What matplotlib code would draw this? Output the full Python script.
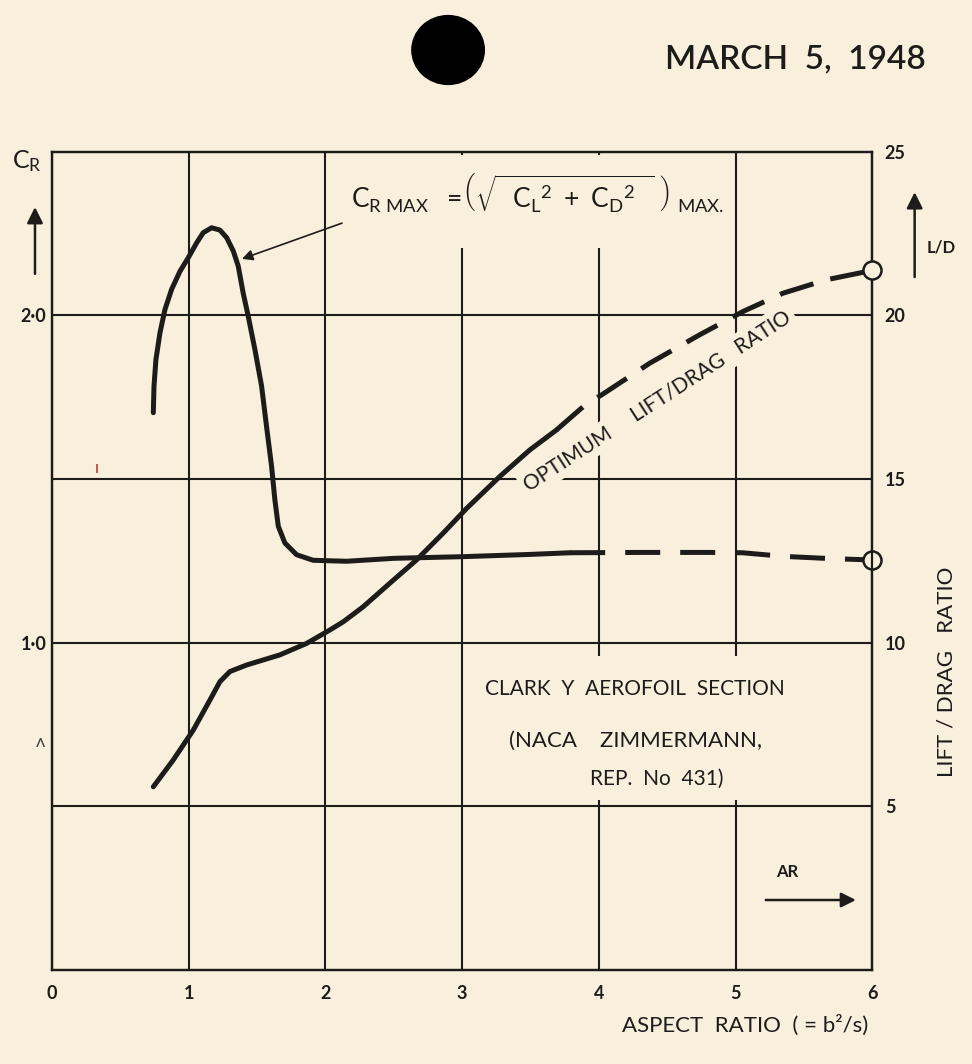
import matplotlib
matplotlib.use("Agg")
import matplotlib.pyplot as plt
from matplotlib.patches import Ellipse, Rectangle, FancyArrowPatch

# ---------------- data ----------------
cr_ar_solid = [0.741, 0.746, 0.760, 0.790, 0.826, 0.875, 0.936, 0.996, 1.058, 1.106,
               1.167, 1.228, 1.277, 1.326, 1.362, 1.398, 1.435, 1.484, 1.533, 1.569,
               1.606, 1.630, 1.655, 1.703, 1.789, 1.910, 2.154, 2.500, 3.000, 3.500, 3.790]
cr_solid = [1.703, 1.784, 1.865, 1.948, 2.018, 2.080, 2.135, 2.176, 2.222, 2.253,
            2.268, 2.261, 2.238, 2.197, 2.151, 2.069, 1.998, 1.896, 1.784, 1.661,
            1.539, 1.437, 1.356, 1.305, 1.269, 1.252, 1.249, 1.258, 1.263, 1.270, 1.275]
cr_ar_dash = [3.79, 4.30, 4.80, 5.05, 5.35, 5.70, 6.00]
cr_dash = [1.275, 1.276, 1.276, 1.275, 1.264, 1.257, 1.253]

ld_ar_solid = [0.741, 0.887, 1.033, 1.155, 1.228, 1.301, 1.423, 1.667, 1.862, 2.032,
               2.130, 2.276, 2.471, 2.666, 2.861, 3.031, 3.275, 3.494, 3.689]
ld_solid = [5.60, 6.42, 7.33, 8.25, 8.81, 9.12, 9.32, 9.63, 9.98, 10.39,
            10.64, 11.10, 11.82, 12.53, 13.35, 14.10, 15.08, 15.89, 16.50]
ld_ar_dash = [3.689, 3.884, 4.055, 4.371, 4.737, 5.053, 5.346, 5.663, 5.956, 6.000]
ld_dash = [16.50, 17.21, 17.67, 18.54, 19.41, 20.12, 20.68, 21.09, 21.34, 21.40]

x_ticks = [0, 1, 2, 3, 4, 5, 6]
x_tick_labels = ["0", "1", "2", "3", "4", "5", "6"]
cr_ticks = [0.5, 1.0, 1.5, 2.0]
cr_tick_labels = ["", "1·0", "", "2·0"]
ld_ticks = [5, 10, 15, 20, 25]
ld_tick_labels = ["5", "10", "15", "20", "25"]

# ---------------- style ----------------
BG = "#f8efdc"
INK = "#1e1c1a"
plt.rcParams['font.family'] = ['Lato', 'DejaVu Sans']
plt.rcParams['mathtext.fontset'] = 'custom'
plt.rcParams['mathtext.rm'] = 'Lato'
plt.rcParams['mathtext.it'] = 'Lato'
plt.rcParams['mathtext.bf'] = 'Lato:bold'

fig = plt.figure(figsize=(9.72, 10.64), dpi=100, facecolor=BG)
ax = fig.add_axes([0.0535, 0.0883, 0.844, 0.769])
ax.set_facecolor(BG)
ax.set_xlim(0, 6)
ax.set_ylim(0, 2.5)
ax2 = ax.twinx()
ax2.set_ylim(0, 25)

for a in (ax, ax2):
    for s in a.spines.values():
        s.set_color(INK)
        s.set_linewidth(1.6)

ax.set_axisbelow(True)
ax.set_xticks(x_ticks)
ax.set_xticklabels(x_tick_labels)
ax.set_yticks(cr_ticks)
ax.set_yticklabels(cr_tick_labels)
ax2.set_yticks(ld_ticks)
ax2.set_yticklabels(ld_tick_labels)
ax.grid(True, color=INK, linewidth=1.5, zorder=0.5)
ax.tick_params(axis='both', length=0, colors=INK, labelsize=13)
ax.tick_params(axis='x', pad=11)
ax.tick_params(axis='y', pad=4)
ax2.tick_params(axis='y', length=0, colors=INK, labelsize=13, pad=9)
for lab in ax.get_xticklabels() + ax.get_yticklabels() + ax2.get_yticklabels():
    lab.set_fontweight('bold')

# grid breaks behind lettering
ax.add_patch(Rectangle((2.9, 2.205), 1.6, 0.285, facecolor=BG, edgecolor='none', zorder=1))
ax.add_patch(Rectangle((3.09, 0.52), 2.38, 0.44, facecolor=BG, edgecolor='none', zorder=1))

# ---------------- curves ----------------
ax.plot(cr_ar_solid, cr_solid, color=INK, lw=3.6, solid_capstyle='round',
        solid_joinstyle='round', zorder=3)
ax.plot(cr_ar_dash, cr_dash, color=INK, lw=3.6, dashes=(7, 4), zorder=3)
ax.plot([cr_ar_dash[-1]], [cr_dash[-1]], marker='o', ms=13, mfc=BG, mec=INK, mew=1.8,
        zorder=4, clip_on=False)

ax2.plot(ld_ar_solid, ld_solid, color=INK, lw=3.6, solid_capstyle='round',
         solid_joinstyle='round', zorder=3)
ax2.plot(ld_ar_dash, ld_dash, color=INK, lw=3.6, dashes=(7, 3.5), zorder=3)
ax2.plot([ld_ar_dash[-1]], [ld_dash[-1]], marker='o', ms=13, mfc=BG, mec=INK, mew=1.8,
         zorder=4, clip_on=False)

# ---------------- annotations ----------------
ax.annotate("", xy=(1.37, 2.17), xytext=(2.14, 2.285),
            arrowprops=dict(arrowstyle='-|>', color=INK, lw=1.2, mutation_scale=16),
            zorder=4)
ax.text(2.19, 2.37,
        r"$\mathrm{C_{R\ MAX}}\ \ \mathrm{=}\!\left(\sqrt{\mathrm{\ \ C_L{}^{2}\ +\ C_D{}^{2}}\ \ }\ \right)_{\mathrm{\ MAX.}}$",
        fontsize=19, color=INK, ha='left', va='center', zorder=2)

ax2.text(4.43, 17.4, "OPTIMUM     LIFT/DRAG   RATIO", rotation=33, fontsize=15,
         color=INK, ha='center', va='center', rotation_mode='anchor', zorder=2,
         bbox=dict(boxstyle='square,pad=0.2', facecolor=BG, edgecolor='none'))

ax.text(4.26, 0.86, "CLARK  Y  AEROFOIL  SECTION", fontsize=15, color=INK,
        ha='center', va='center', zorder=2)
ax.text(4.27, 0.70, "(NACA    ZIMMERMANN,", fontsize=16, color=INK,
        ha='center', va='center', zorder=2)
ax.text(4.42, 0.585, "REP.  No  431)", fontsize=15, color=INK,
        ha='center', va='center', zorder=2)

ax.annotate("", xy=(5.9, 0.214), xytext=(5.2, 0.214),
            arrowprops=dict(arrowstyle='-|>', color=INK, lw=1.8, mutation_scale=22), zorder=4)
ax.text(5.38, 0.30, "AR", fontsize=12, fontweight='bold', color=INK,
        ha='center', va='center', zorder=2)

# axis titles
fig.text(0.012, 0.849, r"$\mathrm{C_R}$", fontsize=18, color=INK, ha='left', va='center')
fig.add_artist(FancyArrowPatch((0.036, 0.740), (0.036, 0.808),
               transform=fig.transFigure, arrowstyle='-|>', mutation_scale=24,
               color=INK, lw=1.8))
fig.add_artist(FancyArrowPatch((0.941, 0.737), (0.941, 0.822),
               transform=fig.transFigure, arrowstyle='-|>', mutation_scale=24,
               color=INK, lw=1.8))
fig.text(0.953, 0.767, "L/D", fontsize=12, fontweight='bold', color=INK,
         ha='left', va='center')
fig.text(0.974, 0.369, "LIFT / DRAG   RATIO", fontsize=16, color=INK,
         rotation=90, ha='center', va='center')
fig.text(0.893, 0.036, "ASPECT  RATIO  ( = b²/s)", fontsize=16, color=INK,
         ha='right', va='center')

# header
fig.text(0.952, 0.944, "MARCH  5,  1948", fontsize=24, fontweight='semibold', color=INK,
         ha='right', va='center')
fig.add_artist(Ellipse((0.461, 0.953), 0.076, 0.066, transform=fig.transFigure,
                       facecolor='black', edgecolor='none'))

# stray marks on the sheet
fig.text(0.042, 0.303, "ʌ", fontsize=13, color="#444444", ha='center', va='center')
fig.text(0.100, 0.560, "ı", fontsize=12, color="#b03020", ha='center', va='center')

fig.savefig("out.png", dpi=100, facecolor=BG)
